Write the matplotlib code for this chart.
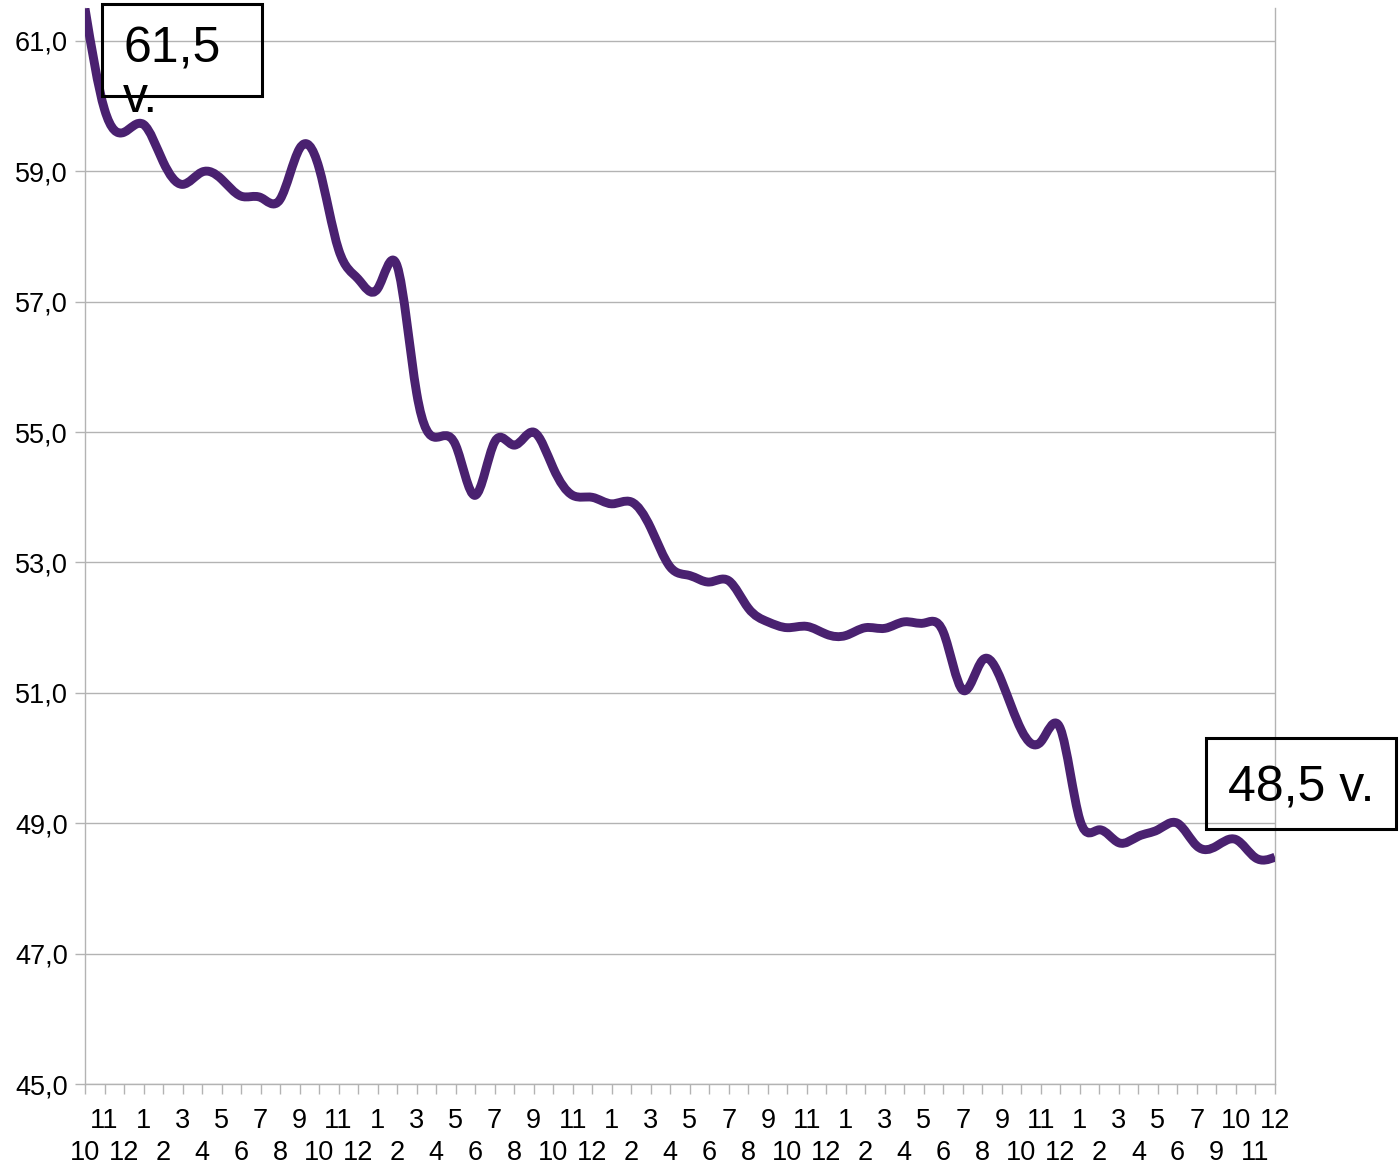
import numpy as np
import matplotlib
matplotlib.use("Agg")
import matplotlib.pyplot as plt
from matplotlib.path import Path
from matplotlib.patches import PathPatch, Rectangle

plt.rcParams["font.family"] = ["Liberation Sans", "DejaVu Sans"]

# month labels, Oct -> Dec five years later (August missing in the last year)
months = [10, 11, 12] + list(range(1, 13)) * 4 + [1, 2, 3, 4, 5, 6, 7, 9, 10, 11, 12]
values = [61.5, 59.95, 59.6, 59.72, 59.15, 58.8, 58.99, 58.88, 58.62, 58.6,
          58.57, 59.35, 59.05, 57.8, 57.35, 57.2, 57.55, 55.6, 54.92, 54.8,
          54.03, 54.85, 54.8, 55.0, 54.45, 54.03, 54.0, 53.9, 53.93, 53.53,
          52.93, 52.8, 52.7, 52.72, 52.3, 52.09, 52.0, 52.02, 51.9, 51.88,
          52.0, 51.99, 52.09, 52.07, 51.93, 51.04, 51.5, 51.17, 50.43, 50.25,
          50.45, 49.05, 48.9, 48.7, 48.8, 48.9, 49.0, 48.65, 48.65, 48.75,
          48.47, 48.48]
yticks = [45, 47, 49, 51, 53, 55, 57, 59, 61]

LINE = "#4a2170"
GRID = "#b3b3b3"
W, H = 1400, 1164


def spline_path(x, y):
    # natural cubic spline written as bezier segments (smoothed line style)
    x = np.asarray(x, float)
    y = np.asarray(y, float)
    n = len(x)
    h = np.diff(x)
    A = np.zeros((n, n))
    r = np.zeros(n)
    A[0, 0] = A[-1, -1] = 1
    for i in range(1, n - 1):
        A[i, i - 1] = h[i - 1]
        A[i, i] = 2 * (h[i - 1] + h[i])
        A[i, i + 1] = h[i]
        r[i] = 6 * ((y[i + 1] - y[i]) / h[i] - (y[i] - y[i - 1]) / h[i - 1])
    M = np.linalg.solve(A, r)
    verts = [(x[0], y[0])]
    codes = [Path.MOVETO]
    for i in range(n - 1):
        s = (y[i + 1] - y[i]) / h[i]
        m0 = s - h[i] * (2 * M[i] + M[i + 1]) / 6
        m1 = s + h[i] * (M[i] + 2 * M[i + 1]) / 6
        verts += [(x[i] + h[i] / 3, y[i] + m0 * h[i] / 3),
                  (x[i + 1] - h[i] / 3, y[i + 1] - m1 * h[i] / 3),
                  (x[i + 1], y[i + 1])]
        codes += [Path.CURVE4] * 3
    return Path(verts, codes)


fig = plt.figure(figsize=(W / 100, H / 100), dpi=100)
ax = fig.add_axes([85 / W, 1 - 1084 / H, 1190 / W, 1075.6 / H])

xs = np.arange(len(values))
ax.add_patch(PathPatch(spline_path(xs, values), fill=False, edgecolor=LINE,
                       lw=6.4, capstyle="butt", joinstyle="round", zorder=3))

ax.set_xlim(0, len(values) - 1)
ax.set_ylim(45, 61.5)

ax.set_yticks(yticks)
ax.set_yticklabels([f"{v:.1f}".replace(".", ",") for v in yticks])
ax.set_xticks(xs)
ax.set_xticklabels([("\n" + str(m)) if i % 2 == 0 else str(m) for i, m in enumerate(months)],
                   linespacing=1.26)
ax.tick_params(axis="both", direction="out", length=7.5, width=1, color=GRID,
               labelsize=19.5, labelcolor="black")
ax.tick_params(axis="x", pad=10)
ax.tick_params(axis="y", pad=5)

ax.grid(axis="y", color=GRID, lw=1)
ax.set_axisbelow(True)
for side in ["left", "right", "bottom"]:
    ax.spines[side].set_color(GRID)
    ax.spines[side].set_linewidth(1)
ax.spines["top"].set_visible(False)

# value boxes for first and last point
def lbl(v):
    return f"{v:.1f}".replace(".", ",")

fig.add_artist(Rectangle((102 / W, 1 - 96 / H), 160 / W, 92 / H, transform=fig.transFigure,
                         fill=False, edgecolor="black", lw=2.2))
fig.text(123 / W, 1 - 112 / H, lbl(values[0]) + "\nv.", fontsize=36, ha="left", va="baseline",
         linespacing=1.1)

fig.add_artist(Rectangle((1206 / W, 1 - 829 / H), 190 / W, 91 / H, transform=fig.transFigure,
                         fill=False, edgecolor="black", lw=2.2))
fig.text(1228 / W, 1 - 801 / H, lbl(values[-1]) + " v.", fontsize=36, ha="left", va="baseline")

fig.savefig("out.png", dpi=100)
